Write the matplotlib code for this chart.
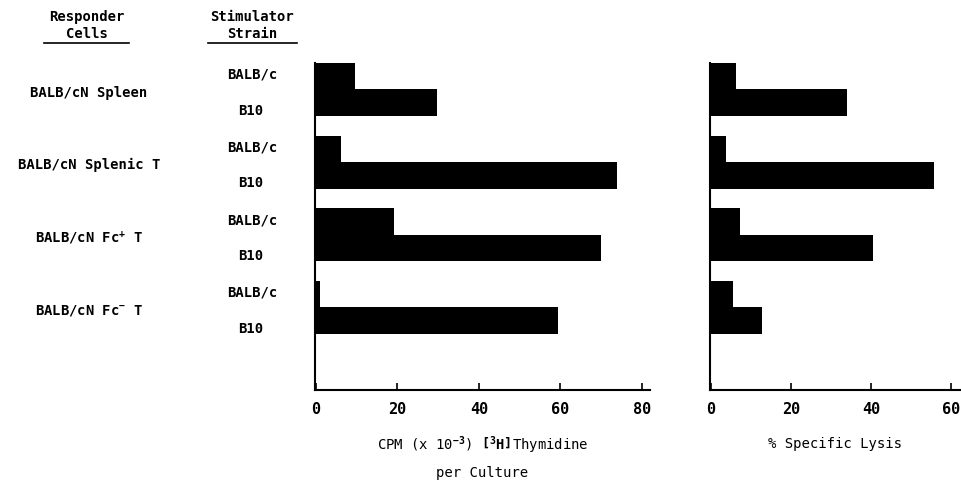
import numpy as np
import matplotlib
matplotlib.use("Agg")
import matplotlib.pyplot as plt
from matplotlib.lines import Line2D
from matplotlib.transforms import blended_transform_factory

plt.rcParams['font.family'] = 'DejaVu Sans Mono'
plt.rcParams['font.weight'] = 'bold'
plt.rcParams['mathtext.fontset'] = 'custom'
plt.rcParams['mathtext.rm'] = 'DejaVu Sans Mono:bold'
plt.rcParams['mathtext.it'] = 'DejaVu Sans Mono:bold'
plt.rcParams['mathtext.bf'] = 'DejaVu Sans Mono:bold'

responders = ["BALB/cN Spleen", "BALB/cN Splenic T",
              "BALB/cN Fc$^{\\mathbf{+}}$ T", "BALB/cN Fc$^{\\mathbf{-}}$ T"]
strains = ["BALB/c", "B10"]

# CPM (x 10^-3) per culture, [BALB/c, B10] for each responder
cpm_balbc = [9.5, 6.2, 19.2, 1.0]
cpm_b10 = [29.8, 74.0, 70.0, 59.3]

# % specific lysis
lysis_balbc = [6.2, 3.7, 7.2, 5.5]
lysis_b10 = [34.0, 55.7, 40.6, 12.7]

fig = plt.figure(figsize=(9.61, 4.83), dpi=100)
W, H = 961.0, 483.0

group_step = 2.74
pos_balbc = np.arange(len(responders)) * group_step
pos_b10 = pos_balbc + 1.0

ax1 = fig.add_axes([315 / W, 1 - 390 / H, 335 / W, 327 / H])
ax2 = fig.add_axes([710 / W, 1 - 390 / H, 251 / W, 327 / H])

for ax, a, b, xmax, ticks in [(ax1, cpm_balbc, cpm_b10, 82.0, [0, 20, 40, 60, 80]),
                              (ax2, lysis_balbc, lysis_b10, 62.5, [0, 20, 40, 60])]:
    ax.barh(pos_balbc, a, height=1.0, left=0, color='black')
    ax.barh(pos_b10, b, height=1.0, left=0, color='black')
    ax.set_ylim(11.84, -0.5)
    ax.set_xlim(-0.25, xmax)
    ax.set_yticks([])
    ax.set_xticks(ticks)
    ax.tick_params(axis='x', direction='in', length=5, width=1.2, labelsize=11, pad=9)
    for s in ['top', 'right']:
        ax.spines[s].set_visible(False)
    for s in ['left', 'bottom']:
        ax.spines[s].set_linewidth(1.5)

ax1.set_xlabel("CPM (x 10$^{\\mathbf{-3}}$) $\\left[^{\\mathbf{3}}\\mathbf{H}\\right]$Thymidine\nper Culture",
               fontsize=10, labelpad=12, linespacing=1.9)
ax2.set_xlabel("% Specific Lysis", fontsize=10, labelpad=14)

# row labels on the left
tr = blended_transform_factory(fig.transFigure, ax1.transData)
for i, name in enumerate(responders):
    fig.text(89 / W, pos_balbc[i] + 0.62, name, transform=tr,
             ha='center', va='center', fontsize=10)
    fig.text(252 / W, pos_balbc[i] - 0.05, strains[0], transform=tr,
             ha='center', va='center', fontsize=10)
    fig.text(251 / W, pos_b10[i] + 0.3, strains[1], transform=tr,
             ha='center', va='center', fontsize=10)

# column headers
fig.text(87 / W, 1 - 17 / H, "Responder", ha='center', va='center', fontsize=10)
fig.text(87 / W, 1 - 34 / H, "Cells", ha='center', va='center', fontsize=10)
fig.text(252 / W, 1 - 17 / H, "Stimulator", ha='center', va='center', fontsize=10)
fig.text(252 / W, 1 - 34 / H, "Strain", ha='center', va='center', fontsize=10)
fig.add_artist(Line2D([44 / W, 129 / W], [1 - 43 / H, 1 - 43 / H], color='black', lw=1.2))
fig.add_artist(Line2D([208 / W, 297 / W], [1 - 43 / H, 1 - 43 / H], color='black', lw=1.2))

fig.savefig("out.png", dpi=100)
